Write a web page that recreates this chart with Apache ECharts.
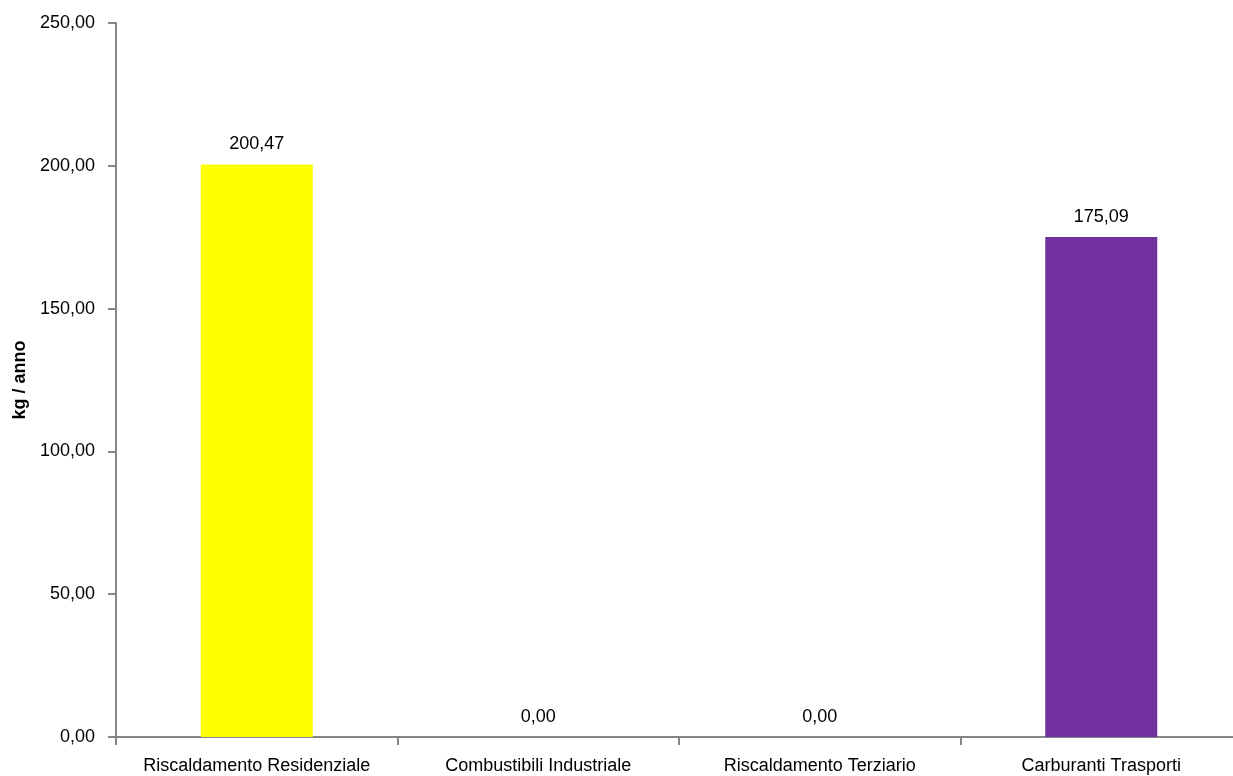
<!DOCTYPE html>
<html><head><meta charset="utf-8">
<script src="https://cdn.jsdelivr.net/npm/echarts@6/dist/echarts.min.js"></script>
<style>html,body{margin:0;padding:0;background:#fff;overflow:hidden;width:1233px;height:776px}#c{width:1242px;height:776px}</style>
</head><body><div id="c"></div>
<script>
const categories = ["Riscaldamento Residenziale","Combustibili Industriale","Riscaldamento Terziario","Carburanti Trasporti"];
const values = [200.47, 0.00, 0.00, 175.09];
const barColors = ["#FFFF00","#FFFF00","#FFFF00","#7030A0"];
const yAxisTitle = "kg / anno";
const fmt = v => Number(v).toFixed(2).replace('.', ',');
const chart = echarts.init(document.getElementById('c'));
const FONT = '"Liberation Sans", Arial, sans-serif';
chart.setOption({
  animation: false,
  grid: {left: 116, top: 23, bottom: 39, right: 0, outerBoundsMode: 'none'},
  xAxis: {
    type: 'category', data: categories,
    axisLine: {lineStyle: {color: '#868686', width: 2}},
    axisTick: {show: true, length: 8, alignWithLabel: false, lineStyle: {color: '#868686', width: 2}},
    axisLabel: {color: '#000', fontFamily: FONT, fontSize: 18, margin: 20, interval: 0}
  },
  yAxis: {
    type: 'value', min: 0, max: 250, interval: 50,
    name: yAxisTitle, nameLocation: 'middle', nameGap: 86, nameRotate: 90,
    nameTextStyle: {color: '#000', fontFamily: FONT, fontSize: 18, fontWeight: 'bold'},
    splitLine: {show: false},
    axisLine: {show: true, lineStyle: {color: '#868686', width: 2}},
    axisTick: {show: true, length: 8, inside: false, lineStyle: {color: '#868686', width: 2}},
    axisLabel: {color: '#000', fontFamily: FONT, fontSize: 18, margin: 21, formatter: fmt}
  },
  series: [{
    type: 'bar', barWidth: 112,
    data: values.map((v, i) => ({value: v, itemStyle: {color: barColors[i]}})),
    label: {show: true, position: 'top', distance: 11, color: '#000', fontFamily: FONT, fontSize: 18, formatter: p => fmt(p.value)}
  }]
});
</script></body></html>
